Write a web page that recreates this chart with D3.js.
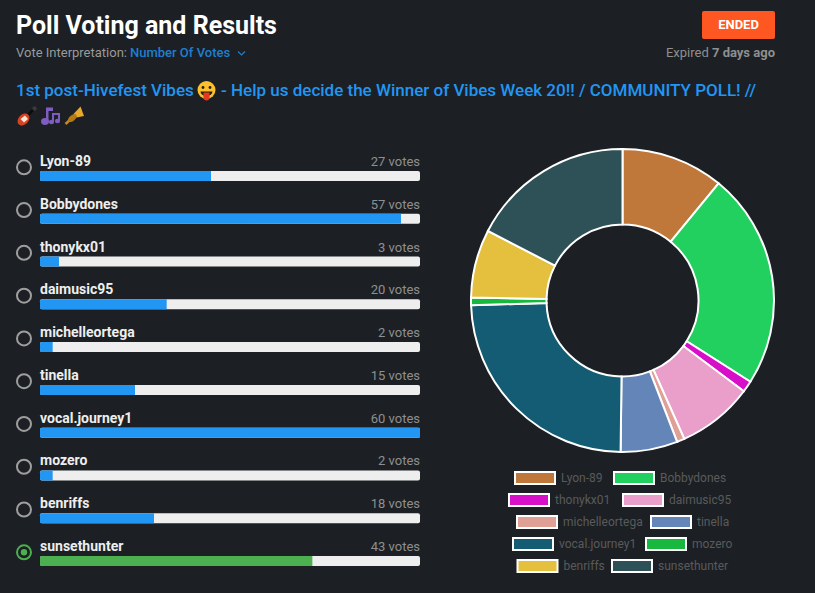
<!DOCTYPE html>
<html>
<head>
<meta charset="utf-8">
<script src="https://cdnjs.cloudflare.com/ajax/libs/d3/7.8.5/d3.min.js"></script>
<style>
  html, body { margin: 0; padding: 0; background: #1c2024; }
  svg { display: block; font-family: Roboto, sans-serif; }
</style>
</head>
<body>
<div class="canva"></div>
<script>
const names = ["Lyon-89", "Bobbydones", "thonykx01", "daimusic95", "michelleortega",
               "tinella", "vocal.journey1", "mozero", "benriffs", "sunsethunter"]
const votes = [27, 57, 3, 20, 2, 15, 60, 2, 18, 43]
const colors = ["#c0783a", "#22d05f", "#d80fc8", "#e99fca", "#e0a096",
                "#6485b8", "#135c73", "#18b83e", "#e5c03f", "#2d5156"]
const legendRows = [[0, 1], [2, 3], [4, 5], [6, 7], [8, 9]]
const winner = "sunsethunter"

const svg = d3.select('.canva').append('svg')
    .attr('width', 815)
    .attr('height', 593)

svg.append('rect').attr('width', 815).attr('height', 593).attr('fill', '#1c2024')

function label(x, y, str, size, weight, fill, anchor) {
    return svg.append('text')
        .attr('x', x).attr('y', y)
        .attr('font-size', size)
        .attr('font-weight', weight)
        .attr('fill', fill)
        .attr('text-anchor', anchor || 'start')
        .text(str)
}

// header
label(16, 34, "Poll Voting and Results", 25, 700, "#ffffff")
label(16, 57, "Vote Interpretation:", 13, 400, "#9a9a9a")
label(130, 57, "Number Of Votes", 13, 500, "#1e7fd0")
svg.append('path')
    .attr('d', 'M238 51.5l3.5 3.5 3.5-3.5')
    .attr('fill', 'none')
    .attr('stroke', '#1e7fd0')
    .attr('stroke-width', 1.2)

svg.append('rect')
    .attr('x', 702).attr('y', 11).attr('width', 73).attr('height', 28)
    .attr('rx', 2).attr('fill', '#ff5722')
label(738.5, 29, "ENDED", 13, 700, "#ffffff", 'middle')

const expired = label(775, 57, "", 13, 400, "#8f8f8f", 'end')
expired.append('tspan').text("Expired ")
expired.append('tspan').attr('font-weight', 700).text("7 days ago")

label(16, 96, "1st post-Hivefest Vibes", 17, 500, "#2196f3")
label(221, 96, "- Help us decide the Winner of Vibes Week 20!! / COMMUNITY POLL! //", 17, 500, "#2196f3")

// emoji, no colour emoji font here so they are small drawings
const face = svg.append('g').attr('transform', 'translate(206.5,90)')
face.append('circle').attr('r', 9).attr('fill', '#fbc02d')
face.append('circle').attr('cx', -3.5).attr('cy', -2.5).attr('r', 1.4).attr('fill', '#2b1d0a')
face.append('circle').attr('cx', 3.5).attr('cy', -2.5).attr('r', 1.4).attr('fill', '#2b1d0a')
face.append('path').attr('d', 'M-6 1.5h12a6 4.5 0 0 1-12 0z').attr('fill', '#2b1d0a')
face.append('path').attr('d', 'M-3 2.5h6v5a3 3 0 0 1-6 0z').attr('fill', '#e5391f')

const guitar = svg.append('g').attr('transform', 'translate(27,116)')
guitar.append('path').attr('d', 'M-2 2L7-7').attr('stroke', '#0c0c0c').attr('stroke-width', 2.6)
guitar.append('circle').attr('cx', 7.5).attr('cy', -7.5).attr('r', 2.2).attr('fill', '#3a3a3a')
guitar.append('ellipse').attr('cx', -3.5).attr('cy', 3.5).attr('rx', 6.8).attr('ry', 5)
    .attr('transform', 'rotate(-45 -3.5 3.5)').attr('fill', '#d8431f')
guitar.append('path').attr('d', 'M-6.5 3L-2 -0.5L1 3L-3 6.5z').attr('fill', '#f2e6dc')

const notes = svg.append('g').attr('transform', 'translate(51,116)')
notes.append('path').attr('d', 'M-5-8.5H2V-5H-2.5V5H-5z').attr('fill', '#7e5cc0')
notes.append('path').attr('d', 'M1-3H9V5H7V-1H3V6H1z').attr('fill', '#7e5cc0')
notes.append('ellipse').attr('cx', -6).attr('cy', 5.5).attr('rx', 4).attr('ry', 3.4).attr('fill', '#7e5cc0')
notes.append('ellipse').attr('cx', 0.5).attr('cy', 6).attr('rx', 2.6).attr('ry', 2.2).attr('fill', '#7e5cc0')
notes.append('ellipse').attr('cx', 6.5).attr('cy', 5).attr('rx', 2.6).attr('ry', 2.2).attr('fill', '#7e5cc0')

const trumpet = svg.append('g').attr('transform', 'translate(74.5,116)')
trumpet.append('path').attr('d', 'M-9 8L3-3').attr('stroke', '#c98a1a').attr('stroke-width', 2.4)
trumpet.append('path').attr('d', 'M-1-2L6-9.5L9.5 0L2 1.5z').attr('fill', '#eaa92a')
trumpet.append('ellipse').attr('cx', -2).attr('cy', 2).attr('rx', 5).attr('ry', 2.8)
    .attr('transform', 'rotate(-40 -2 2)').attr('fill', '#b57a12')

// option rows
const x = d3.scaleLinear().domain([0, d3.max(votes)]).range([0, 380])
const y = d3.scalePoint().domain(names).range([176, 561])

const rows = svg.selectAll('g.row').data(names).enter().append('g')
    .attr('class', 'row')
    .attr('transform', d => `translate(0,${y(d)})`)

rows.append('circle')
    .attr('cx', 24).attr('cy', -8.7).attr('r', 7)
    .attr('fill', 'none')
    .attr('stroke', d => d == winner ? '#4caf50' : '#9e9e9e')
    .attr('stroke-width', 2)
rows.filter(d => d == winner).append('circle')
    .attr('cx', 24).attr('cy', -8.7).attr('r', 3.2).attr('fill', '#4caf50')

rows.append('text')
    .attr('x', 40).attr('y', -10)
    .attr('font-size', 14).attr('font-weight', 700).attr('fill', '#eeeeee')
    .text(d => d)
rows.append('text')
    .attr('x', 420).attr('y', -10)
    .attr('text-anchor', 'end')
    .attr('font-size', 13).attr('fill', '#8f8f8f')
    .text((d, i) => votes[i] + ' votes')
rows.append('rect')
    .attr('x', 40).attr('y', -5).attr('width', 380).attr('height', 10)
    .attr('rx', 2).attr('fill', '#eeeeee')
rows.append('path')
    .attr('d', (d, i) => {
        // left corners rounded, right end square
        const w = x(votes[i])
        return `M42-5H${40 + w}V5H42a2 2 0 0 1-2-2V-3a2 2 0 0 1 2-2z`
    })
    .attr('fill', d => d == winner ? '#4caf50' : '#2196f3')

// doughnut
const pie = d3.pie().sort(null)
const arc = d3.arc().innerRadius(76).outerRadius(151.5)
svg.append('g').attr('transform', 'translate(622.5,300.5)')
    .selectAll('path').data(pie(votes)).enter().append('path')
    .attr('d', arc)
    .attr('fill', (d, i) => colors[i])
    .attr('stroke', '#ffffff')
    .attr('stroke-width', 2)

// legend, each row starts where the original's row starts
const legendStarts = [[514, 613], [508, 622], [516, 650], [512, 645], [516.5, 611]]
const legendY = d3.scalePoint().domain(legendRows.map((d, i) => i)).range([477.5, 565.5])
legendRows.forEach((row, r) => {
    const g = svg.append('g').attr('transform', `translate(0,${legendY(r)})`)
    row.forEach((i, k) => {
        const bx = legendStarts[r][k]
        g.append('rect')
            .attr('x', bx + 1).attr('y', -5.5)
            .attr('width', 40).attr('height', 12)
            .attr('fill', colors[i])
            .attr('stroke', '#ffffff')
            .attr('stroke-width', 2)
        g.append('text')
            .attr('x', bx + 47).attr('y', 4)
            .attr('font-size', 12)
            .attr('fill', '#5a5a5a')
            .text(names[i])
    })
})
</script>
</body>
</html>
